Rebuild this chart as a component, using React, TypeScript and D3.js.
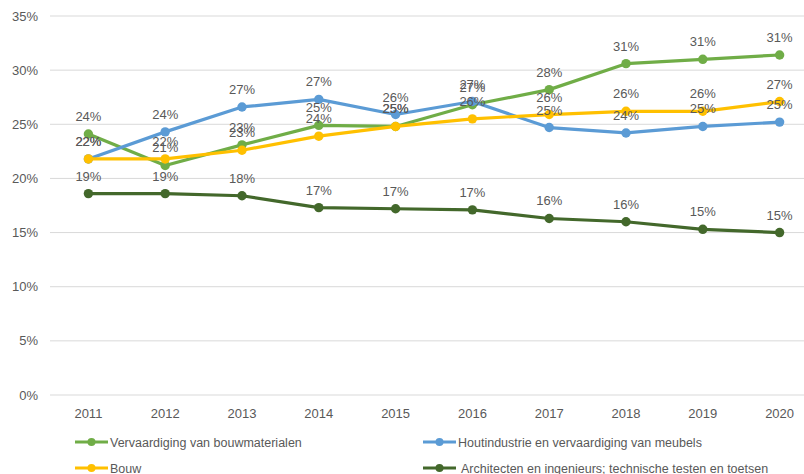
import React, { useEffect, useRef } from 'react';
import * as d3 from 'd3';

const years = ['2011', '2012', '2013', '2014', '2015', '2016', '2017', '2018', '2019', '2020'];
const yTicks = [0, 5, 10, 15, 20, 25, 30, 35];

const seriesNames = [
  'Vervaardiging van bouwmaterialen',
  'Houtindustrie en vervaardiging van meubels',
  'Bouw',
  'Architecten en ingenieurs; technische testen en toetsen',
];
const seriesColors = ['#70AD47', '#5B9BD5', '#FFC000', '#43682B'];

const bouwmaterialen = [24.1, 21.2, 23.1, 24.9, 24.8, 26.8, 28.2, 30.6, 31.0, 31.4];
const houtindustrie = [21.8, 24.3, 26.6, 27.3, 25.9, 27.1, 24.7, 24.2, 24.8, 25.2];
const bouw = [21.8, 21.8, 22.6, 23.9, 24.8, 25.5, 25.9, 26.2, 26.2, 27.1];
const architecten = [18.6, 18.6, 18.4, 17.3, 17.2, 17.1, 16.3, 16.0, 15.3, 15.0];

const seriesValues = [bouwmaterialen, houtindustrie, bouw, architecten];

const W = 804;
const H = 474;
const FONT = '"Liberation Sans", Arial, sans-serif';

export default function App() {
  const ref = useRef<SVGSVGElement | null>(null);

  useEffect(() => {
    const svg = d3.select(ref.current);
    svg.selectAll('*').remove();

    const x = d3.scaleBand().domain(years).range([50, 818]);
    const y = d3.scaleLinear().domain([0, 35]).range([395, 16]);
    const cx = (i: number) => (x(years[i]) as number) + x.bandwidth() / 2;

    // gridlines
    svg.append('g')
      .selectAll('line')
      .data(yTicks)
      .enter()
      .append('line')
      .attr('x1', 50)
      .attr('x2', W)
      .attr('y1', d => y(d))
      .attr('y2', d => y(d))
      .attr('stroke', '#D9D9D9')
      .attr('stroke-width', 1);

    // y labels
    svg.append('g')
      .selectAll('text')
      .data(yTicks)
      .enter()
      .append('text')
      .attr('x', 38)
      .attr('y', d => y(d) + 4.5)
      .attr('text-anchor', 'end')
      .style('font-family', FONT)
      .style('font-size', '13px')
      .style('fill', '#595959')
      .text(d => d + '%');

    // x labels
    svg.append('g')
      .selectAll('text')
      .data(years)
      .enter()
      .append('text')
      .attr('x', (d, i) => cx(i))
      .attr('y', 418)
      .attr('text-anchor', 'middle')
      .style('font-family', FONT)
      .style('font-size', '13px')
      .style('fill', '#595959')
      .text(d => d);

    const line = d3.line<number>()
      .x((d, i) => cx(i))
      .y(d => y(d));

    seriesValues.forEach((vals, s) => {
      const g = svg.append('g');
      g.append('path')
        .datum(vals)
        .attr('d', line)
        .attr('fill', 'none')
        .attr('stroke', seriesColors[s])
        .attr('stroke-width', 3.2)
        .attr('stroke-linejoin', 'round');
      g.selectAll('circle')
        .data(vals)
        .enter()
        .append('circle')
        .attr('cx', (d, i) => cx(i))
        .attr('cy', d => y(d))
        .attr('r', 4.7)
        .attr('fill', seriesColors[s]);
    });

    // data labels
    seriesValues.forEach((vals) => {
      svg.append('g')
        .selectAll('text')
        .data(vals)
        .enter()
        .append('text')
        .attr('x', (d, i) => cx(i))
        .attr('y', d => y(d) - 13)
        .attr('text-anchor', 'middle')
        .style('font-family', FONT)
        .style('font-size', '13px')
        .style('fill', '#595959')
        .text(d => Math.round(d) + '%');
    });

    // legend
    const legendPos = [
      { lx: 75, ly: 442, tx: 110 },
      { lx: 423, ly: 442, tx: 458 },
      { lx: 75, ly: 468, tx: 110 },
      { lx: 423, ly: 468, tx: 461 },
    ];
    seriesNames.forEach((name, s) => {
      const p = legendPos[s];
      const g = svg.append('g');
      g.append('line')
        .attr('x1', p.lx)
        .attr('x2', p.lx + 33)
        .attr('y1', p.ly)
        .attr('y2', p.ly)
        .attr('stroke', seriesColors[s])
        .attr('stroke-width', 3.2);
      g.append('circle')
        .attr('cx', p.lx + 16.5)
        .attr('cy', p.ly)
        .attr('r', 4)
        .attr('fill', seriesColors[s]);
      g.append('text')
        .attr('x', p.tx)
        .attr('y', p.ly + 4.5)
        .style('font-family', FONT)
        .style('font-size', '12.5px')
        .style('fill', '#595959')
        .text(name);
    });
  }, []);

  return (
    <svg ref={ref} width={W} height={H} style={{ position: 'absolute', left: 0, top: 0, background: '#fff' }} />
  );
}
